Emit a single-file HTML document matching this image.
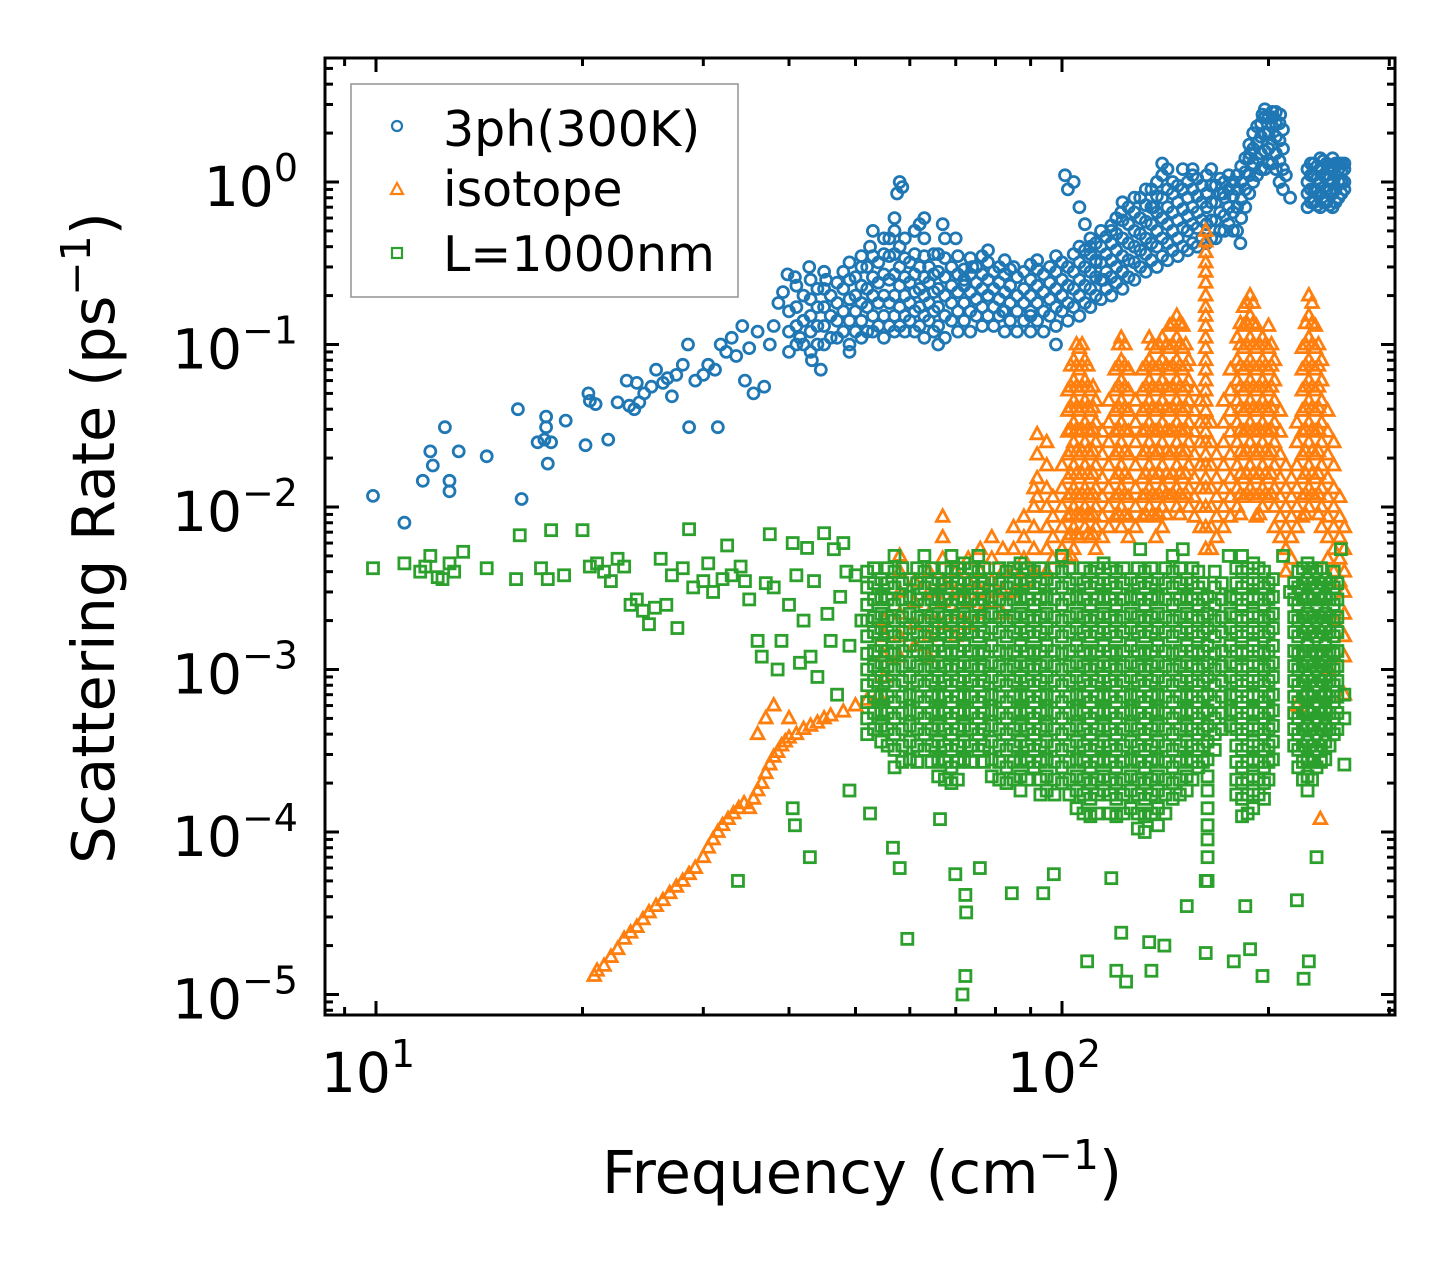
<!DOCTYPE html>
<html><head><meta charset="utf-8"><style>
html,body{margin:0;padding:0;background:#fff;}
svg{display:block;font-family:"DejaVu Sans","Liberation Sans",sans-serif;}
</style></head><body>
<svg id="chart" width="1455" height="1265" viewBox="0 0 1455 1265" xmlns="http://www.w3.org/2000/svg">
<rect x="0" y="0" width="1455" height="1265" fill="#fff"/>
<g id="plot"></g>
<g id="axes"></g>
<g>
<rect x="351" y="84" width="387" height="213" fill="#fff" fill-opacity="0.8" stroke="#999" stroke-width="1.6"/>
<g><circle cx="397" cy="126" r="5" fill="none" stroke="#1f77b4" stroke-width="2.2"/><text x="443" y="146" font-size="49">3ph(300K)</text></g>
<g><polygon points="397,183 403,194 391,194" fill="none" stroke="#ff7f0e" stroke-width="2.2"/><text x="443" y="206" font-size="49">isotope</text></g>
<g><rect x="392" y="248" width="10" height="10" fill="none" stroke="#2ca02c" stroke-width="2.2"/><text x="443" y="271" font-size="49">L=1000nm</text></g>
</g>
<text x="862" y="1193" font-size="59" text-anchor="middle">Frequency (cm<tspan dy="-24" font-size="41">−1</tspan><tspan dy="24">)</tspan></text>
<text transform="translate(114,538) rotate(-90)" font-size="59" text-anchor="middle">Scattering Rate (ps<tspan dy="-24" font-size="41">−1</tspan><tspan dy="24">)</tspan></text>
</svg>
<script>
// ---- data ----
const phF = [9.9,11.0,11.7,12.0,12.1,12.6,12.8,12.8,13.2,14.5,16.1,16.3,17.2,17.6,17.7,17.7,17.8,18.0,18.9,20.2,20.4,20.5,20.9,21.8,22.5,23.2,23.4,23.8,24.0,24.2,24.6,25.2,25.6,26.2,26.6,27.0,27.4,28.0,28.5,28.6,29.2,30.0,30.5,31.2,31.5,31.8,32.4,33.0,33.5,34.2,34.5,35.0,35.5,36.0,36.8,37.5,38.0,38.6,39.2,39.8,40.8,41.5,42.8,43.2,44.5,45.3,49,51,52.5,53,56,57,57.5,58,58.5,61,62,63,66,67,70,72,74,78,82,85,90,92,98,101,102,104,106,108,110,112,115,118,122,136,140,155,172,178,182,188,196,203,208,212,215];
const phR = [0.0117,0.008,0.0145,0.022,0.018,0.031,0.0145,0.0125,0.022,0.0205,0.04,0.0112,0.025,0.026,0.036,0.031,0.0185,0.025,0.034,0.024,0.05,0.045,0.043,0.026,0.044,0.06,0.042,0.04,0.058,0.044,0.05,0.055,0.07,0.058,0.062,0.048,0.065,0.075,0.1,0.031,0.06,0.065,0.075,0.07,0.031,0.1,0.09,0.11,0.085,0.13,0.06,0.095,0.05,0.12,0.055,0.1,0.13,0.18,0.21,0.27,0.26,0.11,0.3,0.08,0.07,0.25,0.09,0.35,0.4,0.5,0.45,0.6,0.85,1.0,0.93,0.5,0.55,0.6,0.1,0.55,0.45,0.25,0.3,0.38,0.16,0.3,0.15,0.33,0.1,1.1,0.9,1.0,0.7,0.55,0.4,0.32,0.25,0.5,0.65,0.7,1.3,1.2,0.85,1.0,0.42,1.5,2.6,2.5,2.6,1.1,0.8];
const phColF = [40,42,44,46,48,50,52,54,56,58,60,62,64,66,69,72,75,78,81,84,88,92,96,100,104,108,112,116,120,125,130,135,140,145,150,155,160,165,170,175,180,185,190,195,200,205,210,228,233,238,243,248,253,258];
const phColR = [[.09,.12,.16],[.1,.14,.2],[.1,.13,.17,.22],[.11,.15,.2],[.12,.16,.22,.28],[.12,.16,.2,.26],[.12,.17,.22,.3],[.13,.18,.24,.32],[.13,.18,.25,.35],[.13,.17,.23,.3,.4],[.14,.18,.24,.32],[.13,.17,.22,.3],[.14,.18,.24,.3],[.13,.17,.22,.28,.36],[.14,.18,.23,.3],[.14,.18,.23,.29],[.15,.19,.24,.3],[.15,.2,.25,.32],[.15,.19,.24,.3],[.14,.18,.23,.29],[.14,.18,.22,.28],[.14,.18,.23,.29],[.15,.19,.24,.3],[.16,.2,.25,.32],[.17,.22,.28,.36],[.18,.23,.3,.38],[.2,.26,.33,.42],[.22,.28,.36,.46],[.24,.3,.38,.48,.6],[.26,.33,.42,.55,.7],[.3,.38,.48,.6,.8],[.33,.42,.55,.7,.9],[.35,.45,.6,.8,1.1],[.38,.5,.65,.85,1.0],[.4,.52,.68,.9,1.2],[.42,.55,.7,.9,1.1],[.45,.58,.75,.95],[.45,.58,.75,.95,1.2],[.5,.65,.85,1.05],[.55,.7,.9,1.1],[.5,.7,.9,1.1],[.7,.9,1.15,1.4],[1.0,1.3,1.6,2.0],[1.2,1.5,1.9,2.3],[1.3,1.6,2.0,2.5],[1.2,1.5,1.9,2.3,2.7],[.9,1.2,1.6,2.1],[.7,.85,1.0,1.2],[.75,.9,1.1,1.3],[.7,.85,1.0,1.2,1.4],[.75,.9,1.1,1.3],[.7,.85,1.0,1.2,1.4],[.8,1.0,1.2,1.3],[.9,1.0,1.2,1.3]];
const phCol2F = [41,43,45,47,49,51,53,55,57,59,61,63,65,67.5,70.5,73.5,76.5,79.5,82.5,86,90,94,98,102,106,110,114,118,122.5,127.5,132.5,137.5,142.5,147.5,152.5,157.5,162.5,167.5,172.5,177.5,182.5,187.5,192.5,197.5,202.5,207.5,230.5,235.5,240.5,245.5,250.5,255.5];
const phCol2R = [[.1,.13,.17,.23],[.09,.12,.15,.19,.25],[.1,.13,.17,.22,.28],[.11,.14,.18,.24],[.1,.14,.19,.25,.32],[.11,.14,.18,.23,.3],[.12,.15,.2,.26,.35],[.11,.15,.2,.27,.36,.45],[.12,.15,.2,.27,.36,.5],[.12,.15,.2,.26,.34,.45],[.12,.16,.21,.27,.36,.5],[.11,.15,.2,.26,.35,.45],[.12,.16,.21,.27,.36],[.11,.15,.2,.26,.34,.45],[.12,.16,.21,.27,.35],[.12,.16,.21,.27,.34],[.13,.17,.22,.27,.35],[.13,.17,.22,.28],[.12,.16,.21,.27,.33],[.12,.16,.2,.26],[.12,.16,.2,.25,.31],[.12,.16,.21,.27],[.13,.17,.22,.28,.35],[.14,.18,.23,.3],[.15,.2,.25,.32,.4],[.17,.22,.28,.36,.45],[.19,.25,.32,.4,.5],[.2,.26,.33,.42,.54],[.22,.28,.35,.45,.58,.75],[.25,.32,.4,.5,.65,.8],[.28,.36,.45,.57,.72,.9],[.3,.4,.5,.65,.82,1.0],[.33,.42,.55,.7,.9,1.2],[.35,.45,.58,.75,.95],[.38,.5,.62,.8,1.0],[.4,.52,.65,.82,1.05],[.42,.55,.7,.85,1.1],[.45,.58,.75,.95],[.5,.62,.8,1.0],[.5,.65,.82,1.0],[.6,.78,1.0,1.25],[.85,1.1,1.4,1.7],[1.1,1.4,1.75,2.2],[1.2,1.55,2.0,2.5,2.8],[1.3,1.7,2.2,2.7],[1.0,1.35,1.8,2.3],[.75,.9,1.1,1.3],[.72,.88,1.05,1.25],[.75,.92,1.1,1.35],[.72,.88,1.05,1.25],[.75,.9,1.1,1.3],[.85,1.0,1.15,1.3]];

const isoF = [20.8,21,21.5,22,22.5,23,23.5,24,24.5,25,25.6,26.2,26.8,27.4,28,28.6,29.2,30,30.5,31,31.5,32,32.6,33.2,33.8,34.4,35,35.5,36,36.5,37,37.5,38,38.5,39,39.5,40,41,42,43,44,45,46,48,50,52,54,36,37,38,40,245,258,238,220,250];
const isoR = [1.3e-5,1.4e-5,1.5e-5,1.7e-5,1.9e-5,2.2e-5,2.4e-5,2.6e-5,2.9e-5,3.2e-5,3.5e-5,3.8e-5,4.2e-5,4.6e-5,5e-5,5.5e-5,6e-5,7e-5,8e-5,9e-5,1e-4,1.1e-4,1.2e-4,1.3e-4,1.4e-4,1.5e-4,1.4e-4,1.6e-4,1.8e-4,2e-4,2.3e-4,2.6e-4,2.9e-4,3.1e-4,3.4e-4,3.6e-4,3.8e-4,4e-4,4.3e-4,4.5e-4,4.7e-4,5e-4,5.2e-4,5.5e-4,6e-4,6.5e-4,7e-4,4e-4,5e-4,6e-4,5e-4,1e-3,7e-4,1.2e-4,6e-4,2e-3];
const isoColF = [55,58,61,64,67,70,73,76,79,82,85,88,91,92,95,97,100,102,104,106,108,110,112,114.5,117,119.5,122,125,128,131,134,137,140,143.5,147,150,153,156,159,162,165,168,172,176,180,184,188,192,196,200,204,208,212,216,220,224,229,234,239,244,249,254,258];
const isoColR = [[.002,.0016,.0012,.0009],[.005,.004,.003,.0022,.0016,.0012],[.0035,.0026,.0019,.0014],[.004,.003,.0022,.0016,.0012],[.0087,.0065,.0048,.0035,.0026,.0019],[.004,.003,.0022,.0016],[.0048,.0035,.0026,.0019],[.0055,.004,.003,.0022],[.0065,.0048,.0035,.0026],[.0055,.004,.003,.0022],[.0075,.0055,.004,.003],[.0087,.0065,.0048,.0035],[.013,.01,.0075,.0055,.004],[.028,.021,.015,.0115],
[.025,.018,.013,.01,.0075,.0055,.004],[.0115,.0087,.0065,.0048],[.018,.013,.01,.0075,.0055],[.052,.039,.029,.021,.015,.0115,.0087,.0065,.0048],[.08,.06,.045,.033,.025,.018,.013,.01,.0075,.0055],[.095,.07,.052,.039,.029,.021,.015,.0115,.0087,.0065],[.08,.06,.045,.033,.025,.018,.013,.01,.0075],[.052,.039,.029,.021,.015,.0115,.0087,.0065],[.045,.033,.025,.018,.013,.01,.0075,.0055],[.029,.021,.015,.0115,.0087,.0065],[.045,.033,.025,.018,.013,.01,.0075],[.07,.052,.039,.029,.021,.015,.0115,.0087],[.11,.08,.06,.045,.033,.025,.018,.013,.01,.0075],[.07,.052,.039,.029,.021,.015,.0115,.0087,.0065],[.045,.033,.025,.018,.013,.01,.0075],[.07,.052,.039,.029,.021,.015,.0115,.0087],[.11,.08,.06,.045,.033,.025,.018,.013,.01],[.095,.07,.052,.039,.029,.021,.015,.0115,.0087,.0065],[.11,.08,.06,.045,.033,.025,.018,.013,.01,.0075],[.13,.095,.07,.052,.039,.029,.021,.015,.0115],[.15,.11,.08,.06,.045,.033,.025,.018,.013,.01],[.13,.095,.07,.052,.039,.029,.021,.015,.0115],[.08,.06,.045,.033,.025,.018,.013,.01],[.052,.039,.029,.021,.015,.0115,.0087],[.045,.033,.025,.018,.013,.01,.0075],[.5,.43,.37,.32,.28,.24,.2,.17,.15,.13,.11,.095,.08,.07,.06,.052,.045,.039,.033,.029,.025,.021,.018,.015,.013,.01,.0075,.0055],[.033,.025,.018,.013,.01,.0075,.0055],[.021,.015,.0115,.0087,.0065],[.045,.033,.025,.018,.013,.01,.0075],[.07,.052,.039,.029,.021,.015,.0115,.0087],[.11,.08,.06,.045,.033,.025,.018,.013,.01],[.17,.13,.095,.07,.052,.039,.029,.021,.015,.0115],[.2,.15,.11,.08,.06,.045,.033,.025,.018,.013],[.13,.095,.07,.052,.039,.029,.021,.015,.0115,.0087],[.11,.08,.06,.045,.033,.025,.018,.013,.01],[.13,.095,.07,.052,.039,.029,.021,.015,.0115],[.08,.06,.045,.033,.025,.018,.013,.01,.0075],[.039,.029,.021,.015,.0115,.0087,.0065],[.018,.013,.01,.0075,.0055,.004],[.015,.0115,.0087,.0065,.0048],[.033,.025,.018,.013,.01,.0075],[.095,.07,.052,.039,.029,.021,.015,.0115,.0087],[.2,.15,.11,.08,.06,.045,.033,.025,.018,.013,.01],[.13,.095,.07,.052,.039,.029,.021,.015,.0115],[.08,.06,.045,.033,.025,.018,.013,.01,.0075],[.039,.029,.021,.015,.0115,.0087,.0065,.0048],[.025,.018,.013,.01,.0075,.0055,.004],[.0115,.0087,.0065,.0048,.0035],[.0075,.0055,.004,.003,.0022,.0016,.0012]];
const isoCol2F = [103,105,107,109,111,121,123.5,132.5,135.5,138.5,142,145,148.5,151.5,182,186,190,194,198,202,226.5,231.5,236.5];
const isoCol2R = [[.074,.055,.041,.03,.022,.016,.012,.009,.0068,.005],[.1,.074,.055,.041,.03,.022,.016,.012,.009,.0068],[.1,.074,.055,.041,.03,.022,.016,.012,.009],[.074,.055,.041,.03,.022,.016,.012,.009,.0068],[.055,.041,.03,.022,.016,.012,.009,.0068],[.1,.074,.055,.041,.03,.022,.016,.012,.009],[.1,.074,.055,.041,.03,.022,.016,.012,.009],[.074,.055,.041,.03,.022,.016,.012,.009],[.1,.074,.055,.041,.03,.022,.016,.012,.009],[.1,.074,.055,.041,.03,.022,.016,.012,.009],[.1,.074,.055,.041,.03,.022,.016,.012,.009],[.135,.1,.074,.055,.041,.03,.022,.016,.012],[.135,.1,.074,.055,.041,.03,.022,.016,.012,.009],[.1,.074,.055,.041,.03,.022,.016,.012],[.135,.1,.074,.055,.041,.03,.022,.016,.012,.009],[.18,.135,.1,.074,.055,.041,.03,.022,.016,.012],[.18,.135,.1,.074,.055,.041,.03,.022,.016,.012],[.1,.074,.055,.041,.03,.022,.016,.012,.009],[.1,.074,.055,.041,.03,.022,.016,.012],[.1,.074,.055,.041,.03,.022,.016,.012],[.135,.1,.074,.055,.041,.03,.022,.016,.012,.009],[.18,.135,.1,.074,.055,.041,.03,.022,.016,.012],[.1,.074,.055,.041,.03,.022,.016,.012,.009]];

const bdF = [9.9,11,11.6,11.8,12,12.3,12.5,12.8,13,13.4,14.5,16,16.2,17.4,17.8,18,18.8,20,20.5,21,21.5,22,22.5,23,23.5,24,24.5,25,25.5,26,26.5,27,27.5,28,28.6,29,30,30.5,31,32,32.5,33,34,34.5,35,36,36.5,37,37.5,38,38.5,39,40,40.5,41,41.5,42,42.5,43,43.5,44,45,45.5,46,46.5,47,47.5,48,48.5,49,50,51,33.7,42.9,40.8,40.5,49,52.5,56.7,58,59.5,66.4,69.9,72.3,71.6,72.3,72.5,75.9,84.5,93.9,97.3,108.8,120,124,122,118,134,135,141,152,162,178,188,196,185,225,229,220,235,162,258,258,258,100,130,150,175,210,215,255];
const bdR = [4.2e-3,4.5e-3,4e-3,4.3e-3,5e-3,3.7e-3,3.6e-3,4.5e-3,4e-3,5.3e-3,4.2e-3,3.6e-3,6.7e-3,4.2e-3,3.6e-3,7.2e-3,3.8e-3,7.2e-3,4.3e-3,4.5e-3,4e-3,3.5e-3,4.8e-3,4.3e-3,2.5e-3,2.7e-3,2.3e-3,1.9e-3,2.4e-3,4.8e-3,2.5e-3,3.8e-3,1.8e-3,4.2e-3,7.3e-3,3.2e-3,3.5e-3,4.5e-3,3e-3,3.6e-3,5.8e-3,3.8e-3,4.3e-3,3.5e-3,2.7e-3,1.5e-3,1.2e-3,3.4e-3,6.8e-3,3.2e-3,1e-3,1.5e-3,2.5e-3,6e-3,3.8e-3,1.1e-3,2e-3,5.6e-3,1.2e-3,3.5e-3,9e-4,6.9e-3,2.2e-3,1.5e-3,5.5e-3,7e-4,2.8e-3,6e-3,4e-3,1.4e-3,3.8e-3,2e-3,5e-5,7e-5,1.1e-4,1.4e-4,1.8e-4,1.3e-4,8e-5,6e-5,2.2e-5,1.2e-4,5.5e-5,4.1e-5,1e-5,1.3e-5,3.2e-5,6e-5,4.2e-5,4.2e-5,5.5e-5,1.6e-5,1.4e-5,1.2e-5,2.4e-5,5.2e-5,2.1e-5,1.4e-5,2e-5,3.5e-5,1.8e-5,1.6e-5,1.9e-5,1.3e-5,3.5e-5,1.25e-5,1.6e-5,3.8e-5,7e-5,5e-5,2.6e-4,5e-4,7e-4,5e-3,5.5e-3,5.5e-3,5e-3,5e-3,3e-3,5.5e-3];
const bdColF = [52,54.5,57,60,63,66,69,72,75.5,79,83,87,91,95,100,105,110,115,120,126,132,138,145,152,158,163,167,176,183,190,197,203,221,228,235,242,249];
const bdColR = [[.004,.0032,.0025,.002,.0016,.00125,.001,.0008,.00063,.0005,.0004],[.0036,.0028,.0022,.0018,.0014,.0011,.0009,.0007,.00056,.00045,.00036],[.005,.004,.0032,.0025,.002,.0016,.00125,.001,.0008,.00063,.0005,.0004,.00032,.00025],[.0036,.0028,.0022,.0018,.0014,.0011,.0009,.0007,.00056,.00045,.00036,.00028],[.005,.004,.0032,.0025,.002,.0016,.00125,.001,.0008,.00063,.0005,.0004,.00032],[.0036,.0028,.0022,.0018,.0014,.0011,.0009,.0007,.00056,.00045,.00036,.00028,.00022],[.005,.004,.0032,.0025,.002,.0016,.00125,.001,.0008,.00063,.0005,.0004,.00032,.00025,.0002],[.0045,.0036,.0028,.0022,.0018,.0014,.0011,.0009,.0007,.00056,.00045,.00036,.00028],[.005,.004,.0032,.0025,.002,.0016,.00125,.001,.0008,.00063,.0005,.0004,.00032],[.0036,.0028,.0022,.0018,.0014,.0011,.0009,.0007,.00056,.00045,.00036,.00028,.00022],[.004,.0032,.0025,.002,.0016,.00125,.001,.0008,.00063,.0005,.0004,.00032,.00025,.0002],[.0045,.0036,.0028,.0022,.0018,.0014,.0011,.0009,.0007,.00056,.00045,.00036,.00028,.00022,.00018],[.004,.0032,.0025,.002,.0016,.00125,.001,.0008,.00063,.0005,.0004,.00032,.00025],[.0036,.0028,.0022,.0018,.0014,.0011,.0009,.0007,.00056,.00045,.00036,.00028,.00022,.00018],[.004,.0032,.0025,.002,.0016,.00125,.001,.0008,.00063,.0005,.0004,.00032,.00025,.0002],[.0036,.0028,.0022,.0018,.0014,.0011,.0009,.0007,.00056,.00045,.00036,.00028,.00022,.00018,.00014],[.004,.0032,.0025,.002,.0016,.00125,.001,.0008,.00063,.0005,.0004,.00032,.00025,.0002,.00016,.000125],[.0045,.0036,.0028,.0022,.0018,.0014,.0011,.0009,.0007,.00056,.00045,.00036,.00028,.00022,.00018],[.004,.0032,.0025,.002,.0016,.00125,.001,.0008,.00063,.0005,.0004,.00032,.00025,.0002,.00016,.000125],[.0036,.0028,.0022,.0018,.0014,.0011,.0009,.0007,.00056,.00045,.00036,.00028,.00022,.00018,.00014],[.004,.0032,.0025,.002,.0016,.00125,.001,.0008,.00063,.0005,.0004,.00032,.00025,.0002,.00016,.000125,.0001],[.0036,.0028,.0022,.0018,.0014,.0011,.0009,.0007,.00056,.00045,.00036,.00028,.00022,.00018,.00014,.00011],[.005,.004,.0032,.0025,.002,.0016,.00125,.001,.0008,.00063,.0005,.0004,.00032,.00025,.0002,.00016],[.0036,.0028,.0022,.0018,.0014,.0011,.0009,.0007,.00056,.00045,.00036,.00028,.00022,.00018],[.004,.0032,.0025,.002,.0016,.00125,.001,.0008,.00063,.0005,.0004,.00032,.00025],[.0028,.0022,.0018,.0014,.0011,.0009,.0007,.00056,.00045,.00036,.00028,.00022,.00018,.00014,.00011,.00009,.00007,.00005],[.004,.0032,.0025,.002,.0016,.00125,.001,.0008,.00063,.0005,.0004,.00032],[.0028,.0022,.0018,.0014,.0011,.0009,.0007,.00056,.00045],[.005,.004,.0032,.0025,.002,.0016,.00125,.001,.0008,.00063,.0005,.0004,.00032,.00025,.0002,.00016,.000125],[.0045,.0036,.0028,.0022,.0018,.0014,.0011,.0009,.0007,.00056,.00045,.00036,.00028,.00022,.00018,.00014],[.004,.0032,.0025,.002,.0016,.00125,.001,.0008,.00063,.0005,.0004,.00032,.00025,.0002,.00016],[.0036,.0028,.0022,.0018,.0014,.0011,.0009,.0007,.00056,.00045,.00036,.00028],[.004,.0032,.0025,.002,.0016,.00125,.001,.0008,.00063,.0005,.0004,.00032,.00025],[.0045,.0036,.0028,.0022,.0018,.0014,.0011,.0009,.0007,.00056,.00045,.00036,.00028,.00022,.00018],[.004,.0032,.0025,.002,.0016,.00125,.001,.0008,.00063,.0005,.0004,.00032,.00025],[.0036,.0028,.0022,.0018,.0014,.0011,.0009,.0007,.00056,.00045,.00036,.00028],[.004,.0032,.0025,.002,.0016,.00125,.001,.0008,.00063,.0005,.0004]];
const bdCol2F = [53.2,55.7,58.5,61.5,64.5,67.5,70.5,73.7,77,81,85,89,93,97.5,102.5,107.5,112.5,117.5,123,129,135,141.5,148.5,155,160.5,171,179.5,186.5,193.5,200,218,224.5,231.5,238.5,245.5,252];
const bdCol2R = [
[.0042,.0034,.0027,.0021,.0017,.0013,.00105,.00085,.00068,.00054,.00043],
[.0042,.0034,.0027,.0021,.0017,.0013,.00105,.00085,.00068,.00054,.00043,.00034],
[.0042,.0034,.0027,.0021,.0017,.0013,.00105,.00085,.00068,.00054,.00043,.00034,.00027],
[.0042,.0034,.0027,.0021,.0017,.0013,.00105,.00085,.00068,.00054,.00043,.00034,.00027],
[.0042,.0034,.0027,.0021,.0017,.0013,.00105,.00085,.00068,.00054,.00043,.00034,.00027],
[.0042,.0034,.0027,.0021,.0017,.0013,.00105,.00085,.00068,.00054,.00043,.00034,.00027,.00021],
[.0042,.0034,.0027,.0021,.0017,.0013,.00105,.00085,.00068,.00054,.00043,.00034,.00027,.00021],
[.0042,.0034,.0027,.0021,.0017,.0013,.00105,.00085,.00068,.00054,.00043,.00034,.00027],
[.0042,.0034,.0027,.0021,.0017,.0013,.00105,.00085,.00068,.00054,.00043,.00034,.00027],
[.0042,.0034,.0027,.0021,.0017,.0013,.00105,.00085,.00068,.00054,.00043,.00034,.00027,.00021],
[.0042,.0034,.0027,.0021,.0017,.0013,.00105,.00085,.00068,.00054,.00043,.00034,.00027,.00021],
[.0042,.0034,.0027,.0021,.0017,.0013,.00105,.00085,.00068,.00054,.00043,.00034,.00027,.00021],
[.0042,.0034,.0027,.0021,.0017,.0013,.00105,.00085,.00068,.00054,.00043,.00034,.00027,.00021,.00017],
[.0042,.0034,.0027,.0021,.0017,.0013,.00105,.00085,.00068,.00054,.00043,.00034,.00027,.00021,.00017],
[.0042,.0034,.0027,.0021,.0017,.0013,.00105,.00085,.00068,.00054,.00043,.00034,.00027,.00021,.00017],
[.0042,.0034,.0027,.0021,.0017,.0013,.00105,.00085,.00068,.00054,.00043,.00034,.00027,.00021,.00017,.00013],
[.0042,.0034,.0027,.0021,.0017,.0013,.00105,.00085,.00068,.00054,.00043,.00034,.00027,.00021,.00017,.00013],
[.0042,.0034,.0027,.0021,.0017,.0013,.00105,.00085,.00068,.00054,.00043,.00034,.00027,.00021,.00017,.00013],
[.0042,.0034,.0027,.0021,.0017,.0013,.00105,.00085,.00068,.00054,.00043,.00034,.00027,.00021,.00017,.00013],
[.0042,.0034,.0027,.0021,.0017,.0013,.00105,.00085,.00068,.00054,.00043,.00034,.00027,.00021,.00017,.00013,.000105],
[.0042,.0034,.0027,.0021,.0017,.0013,.00105,.00085,.00068,.00054,.00043,.00034,.00027,.00021,.00017,.00013],
[.0042,.0034,.0027,.0021,.0017,.0013,.00105,.00085,.00068,.00054,.00043,.00034,.00027,.00021,.00017,.00013],
[.0042,.0034,.0027,.0021,.0017,.0013,.00105,.00085,.00068,.00054,.00043,.00034,.00027,.00021,.00017],
[.0042,.0034,.0027,.0021,.0017,.0013,.00105,.00085,.00068,.00054,.00043,.00034,.00027,.00021],
[.0034,.0027,.0021,.0017,.0013,.00105,.00085,.00068,.00054,.00043,.00034,.00027],
[.0034,.0027,.0021,.0017,.0013,.00105,.00085,.00068,.00054,.00043],
[.0042,.0034,.0027,.0021,.0017,.0013,.00105,.00085,.00068,.00054,.00043,.00034,.00027,.00021,.00017],
[.0042,.0034,.0027,.0021,.0017,.0013,.00105,.00085,.00068,.00054,.00043,.00034,.00027,.00021,.00017,.00013],
[.0042,.0034,.0027,.0021,.0017,.0013,.00105,.00085,.00068,.00054,.00043,.00034,.00027,.00021,.00017],
[.0034,.0027,.0021,.0017,.0013,.00105,.00085,.00068,.00054,.00043,.00034,.00027,.00021],
[.0034,.0027,.0021,.0017,.0013,.00105,.00085,.00068,.00054,.00043,.00034],
[.0042,.0034,.0027,.0021,.0017,.0013,.00105,.00085,.00068,.00054,.00043,.00034,.00027,.00021],
[.0042,.0034,.0027,.0021,.0017,.0013,.00105,.00085,.00068,.00054,.00043,.00034,.00027,.00021],
[.0042,.0034,.0027,.0021,.0017,.0013,.00105,.00085,.00068,.00054,.00043,.00034,.00027],
[.0034,.0027,.0021,.0017,.0013,.00105,.00085,.00068,.00054,.00043,.00034],
[.0034,.0027,.0021,.0017,.0013,.00105,.00085,.00068,.00054,.00043]];

const xMajorTicks = [10,100];
const xMajorLabels = ["1","2"];
const yMajorTicks = [1e-5,1e-4,1e-3,1e-2,1e-1,1];
const yMajorLabels = ["−5","−4","−3","−2","−1","0"];

// ---- scales ----
const NS = "http://www.w3.org/2000/svg";
function xs(f){ return 376 + 686*(Math.log10(f)-1); }
function ys(r){ return 182 - 162.5*Math.log10(r); }
const X0=325, X1=1395, Y0=58, Y1=1015;

const plot = document.getElementById('plot');
function mk(tag, attrs, parent){
  const e = document.createElementNS(NS, tag);
  for (const k in attrs) e.setAttribute(k, attrs[k]);
  parent.appendChild(e); return e;
}
function circ(f,r,g){
  const e = mk('circle',{cx:xs(f).toFixed(1),cy:ys(r).toFixed(1),r:5.5,fill:'none',stroke:'#1f77b4','stroke-width':2.8},g);
  
  
}
function tri(f,r,g){
  const x=xs(f), y=ys(r);
  const e = mk('polygon',{points:`${x},${y-7} ${x+6.3},${y+4.5} ${x-6.3},${y+4.5}`,fill:'none',stroke:'#ff7f0e','stroke-width':2.8},g);
  
  
}
function sq(f,r,g){
  const x=xs(f), y=ys(r);
  const e = mk('rect',{x:x-5.5,y:y-5.5,width:11,height:11,fill:'none',stroke:'#2ca02c','stroke-width':2.8},g);
  
  
}
const gB = mk('g',{},plot);


const gO = mk('g',{},plot);


const gG = mk('g',{},plot);



phF.forEach((f,i)=>circ(f,phR[i],gB));
phColF.forEach((f,i)=>phColR[i].forEach(r=>circ(f,r,gB)));
phCol2F.forEach((f,i)=>phCol2R[i].forEach(r=>circ(f,r,gB)));
isoF.forEach((f,i)=>tri(f,isoR[i],gO));
isoColF.forEach((f,i)=>isoColR[i].forEach(r=>tri(f,r,gO)));
isoCol2F.forEach((f,i)=>isoCol2R[i].forEach(r=>tri(f,r,gO)));
bdF.forEach((f,i)=>sq(f,bdR[i],gG));
bdColF.forEach((f,i)=>bdColR[i].forEach(r=>sq(f,r,gG)));
bdCol2F.forEach((f,i)=>bdCol2R[i].forEach(r=>sq(f,r,gG)));

// ---- axes ----
const ax = document.getElementById('axes');
const frame = mk('rect',{x:X0,y:Y0,width:X1-X0,height:Y1-Y0,fill:'none',stroke:'#000','stroke-width':3},ax);


function line(x1,y1,x2,y2,w){ mk('line',{x1,y1,x2,y2,stroke:'#000','stroke-width':w},ax); }
for (let d=0; d<=2; d++){
  for (let m=1; m<=9; m++){
    const v = m*Math.pow(10,d);
    const x = xs(v);
    if (x < X0+1 || x > X1-1) continue;
    const L = (m===1)?14:8;
    line(x,Y1,x,Y1-L,3); line(x,Y0,x,Y0+L,3);
  }
}
xMajorTicks.forEach((v,i)=>{
  const t = mk('text',{x:xs(v)-8,y:1092,'font-size':55,'text-anchor':'middle'},ax);
  
  
  t.innerHTML = `10<tspan dy="-25" font-size="38">${xMajorLabels[i]}</tspan>`;
});
for (let d=-6; d<=1; d++){
  for (let m=1; m<=9; m++){
    const v = m*Math.pow(10,d);
    const y = ys(v);
    if (y < Y0+1 || y > Y1-1) continue;
    const L = (m===1)?14:8;
    line(X0,y,X0+L,y,3); line(X1,y,X1-L,y,3);
  }
}
yMajorTicks.forEach((v,i)=>{
  const t = mk('text',{x:298,y:ys(v)+24,'font-size':55,'text-anchor':'end'},ax);
  
  
  t.innerHTML = `10<tspan dy="-25" font-size="38">${yMajorLabels[i]}</tspan>`;
});
</script>
</body></html>
